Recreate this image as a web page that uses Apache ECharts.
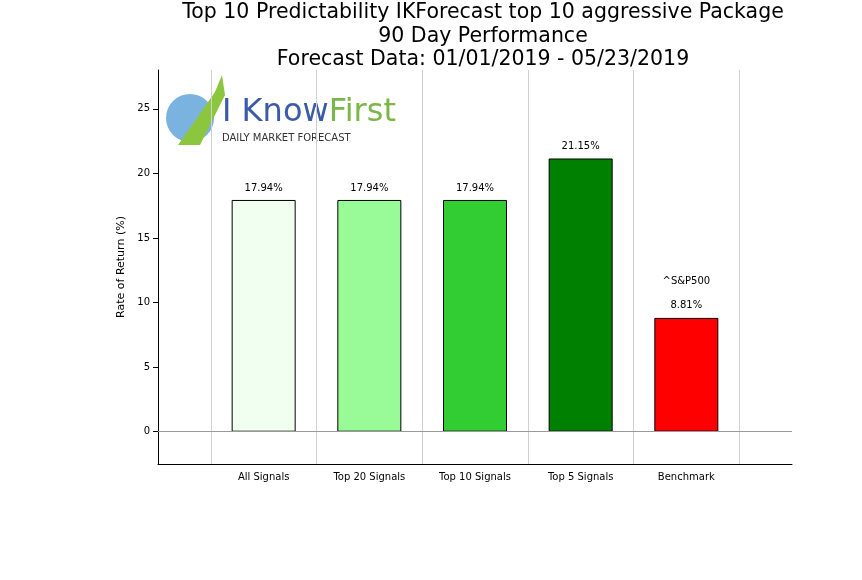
<!DOCTYPE html>
<html><head><meta charset="utf-8">
<script src="https://cdn.jsdelivr.net/npm/echarts@6/dist/echarts.min.js"></script>
<style>html,body{margin:0;padding:0;background:#fff}#c{width:862px;height:580px}</style>
</head><body><div id="c"></div>
<script>
const categories = ['All Signals','Top 20 Signals','Top 10 Signals','Top 5 Signals','Benchmark'];
const values = [17.94, 17.94, 17.94, 21.15, 8.81];
const colors = ['#f0fff0','#98fb98','#32cd32','#008000','#ff0000'];
const yTicks = [0,5,10,15,20,25];
const chart = echarts.init(document.getElementById('c'));
const font = 'DejaVu Sans';
chart.setOption({
  animation:false,
  textStyle:{fontFamily:font},
  title:{text:'Top 10 Predictability IKForecast top 10 aggressive Package\n90 Day Performance\nForecast Data: 01/01/2019 - 05/23/2019',
    left:478, textAlign:'center', top:-4,
    textStyle:{fontSize:20.5,fontWeight:'normal',color:'#000',lineHeight:23.5,fontFamily:font}},
  grid:{left:158,right:70,top:70,bottom:116},
  xAxis:{type:'value',min:0,max:6,interval:0.5,
    axisLine:{onZero:false,lineStyle:{color:'#000'}},axisTick:{show:false},
    axisLabel:{color:'#000',fontSize:10,margin:8,formatter:v=>Number.isInteger(v)&&v>=1&&v<=5?categories[v-1]:''},
    splitLine:{show:true,lineStyle:{color:['transparent','#d0d0d0'],width:1}}},
  yAxis:{type:'value',min:-2.5,max:28,
    name:'Rate of Return (%)',nameLocation:'middle',nameGap:26,nameTextStyle:{fontSize:11,color:'#000'},
    axisLine:{show:true,lineStyle:{color:'#000'}},
    axisTick:{show:true,customValues:yTicks,lineStyle:{color:'#000'}},
    axisLabel:{customValues:yTicks,color:'#000',fontSize:10},
    splitLine:{show:false}},
  series:[{type:'bar',barWidth:64,
    data:values.map((v,i)=>({value:[i+1,v],itemStyle:{color:colors[i],borderColor:'#000',borderWidth:1}})),
    label:{show:true,position:'top',distance:6,fontSize:10,color:'#000',
      formatter:p=>(p.dataIndex===4?'^S&P500\n\n':'')+p.value[1].toFixed(2)+'%',lineHeight:12},
    markLine:{silent:true,symbol:'none',label:{show:false},lineStyle:{color:'#999',type:'solid',width:1},data:[{yAxis:0}]}
  }],
  graphic:[
    {type:'circle',shape:{cx:190,cy:118,r:24},style:{fill:'#5aa0d8',opacity:0.8}},
    {type:'polygon',shape:{points:[[178,145],[215,92],[222,75],[225,95],[200,145]]},style:{fill:'#8cc63f'}},
    {type:'text',left:222,top:97,style:{text:'{a|I Know}{b|First}',rich:{a:{font:'32px "DejaVu Sans"',fill:'#3a5ba8'},b:{font:'32px "DejaVu Sans"',fill:'#7ab648'}}}},
    {type:'text',left:222,top:133,style:{text:'DAILY MARKET FORECAST',font:'10px "DejaVu Sans"',fill:'#333'}}
  ]
});
</script></body></html>
